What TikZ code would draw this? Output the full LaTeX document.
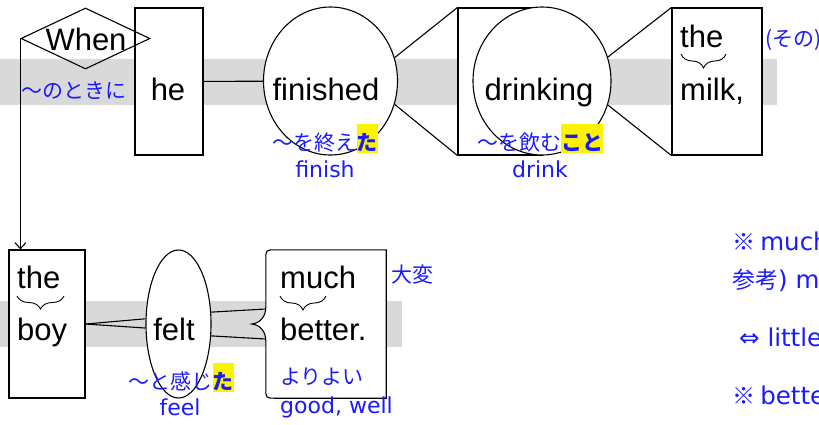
\documentclass[tikz,border=0pt]{standalone}
\usepackage{fontspec}
\setmainfont{Liberation Sans}
\newfontfamily\jp{Noto Sans CJK JP}
\newfontfamily\lat{DejaVu Sans}
\usetikzlibrary{shapes.geometric,arrows.meta,decorations.pathreplacing}
\definecolor{bandgray}{HTML}{D9D9D9}
\definecolor{jblue}{HTML}{1A1AFF}
\newcommand{\hlta}[1]{{\setlength{\fboxsep}{0pt}\colorbox{yellow}{\rule[-0.12em]{0pt}{1.38em}\bfseries #1}}}
\tikzset{
  word/.style={font=\fontsize{31}{31}\selectfont, inner sep=0pt, anchor=base},
  jtxt/.style={font=\jp\fontsize{21}{21}\selectfont, text=jblue, inner sep=0pt, anchor=base},
  ntxt/.style={font=\jp\fontsize{23}{23}\selectfont, text=jblue, inner sep=0pt, anchor=base west},
  ltxt/.style={font=\lat\fontsize{22}{22}\selectfont, text=jblue, inner sep=0pt, anchor=base},
  wbox/.style={draw, fill=white, line width=1.1pt, inner sep=0pt, rectangle},
  wround/.style={draw, fill=white, line width=1.1pt, inner sep=0pt, ellipse},
  conn/.style={line width=1.1pt},
  brc/.style={decorate, line width=0.9pt},
}
\newcommand{\nlat}[1]{{\lat\fontsize{24.5}{24.5}\selectfont #1}}
\begin{document}
\begin{tikzpicture}[x=1pt,y=-1pt]
\useasboundingbox (0,0) rectangle (819,424);
% bands
\fill[bandgray] (0,59) rectangle (777,105);
\fill[bandgray] (0,301) rectangle (402,347);
% shapes
\node[wbox, minimum width=68pt, minimum height=147pt] (he) at (169,81.5) {};
\node[draw, line width=1.1pt, inner sep=0pt, diamond, minimum width=129pt, minimum height=61pt] (when) at (85.5,38.5) {};
\node[wround, minimum width=134pt, minimum height=148pt] (finished) at (330.5,81) {};
\node[wbox, minimum width=84pt, minimum height=147pt] (drinkbox) at (500,81.5) {};
\node[wround, minimum width=138pt, minimum height=148pt] (drinking) at (542,81) {};
\node[wbox, minimum width=90pt, minimum height=147pt] (milk) at (717,81.5) {};
\node[wbox, minimum width=76pt, minimum height=148pt] (boy) at (47,324) {};
\node[wround, minimum width=65pt, minimum height=148pt] (felt) at (178.5,324) {};
\node[rectangle, inner sep=0pt, minimum width=120pt, minimum height=148pt] (much) at (326,324) {};
\draw[line width=1.1pt, fill=white]
  (much.north east) -- (much.south east) -- ([xshift=10pt]much.south west)
  .. controls (much.south west) .. ([yshift=10pt]much.south west)
  -- ([yshift=-17pt]much.west)
  .. controls ([yshift=-8pt]much.west) and ([xshift=-5pt,yshift=-1pt]much.west) .. ([xshift=-14pt]much.west)
  .. controls ([xshift=-5pt,yshift=1pt]much.west) and ([yshift=8pt]much.west) .. ([yshift=17pt]much.west)
  -- ([yshift=-10pt]much.north west)
  .. controls (much.north west) .. ([xshift=10pt]much.north west) -- cycle;
% connectors
\draw[conn] (he) -- (finished);
\draw[conn] (finished.20) -- (drinkbox.north west);
\draw[conn] (finished.-20) -- (drinkbox.south west);
\draw[conn] (drinking.20) -- (milk.north west);
\draw[conn] (drinking.-20) -- (milk.south west);
\draw[conn] (boy.east) -- (felt.171);
\draw[conn] (boy.east) -- (felt.187);
\draw[conn] (felt.20) -- ([yshift=15pt]much.west);
\draw[conn] (felt.-20) -- ([yshift=-15pt]much.west);
\draw[conn, -{Straight Barb[length=6pt,width=11pt]}] (when.west) -- (when.west |- boy.north);
% black words
\node[word] (tWhen) at (86,50) {When};
\node[word] (tHe) at (168,100) {he};
\node[word] (tFin) at (326,100) {finished};
\node[word] (tDri) at (539,100) {drinking};
\node[word, anchor=base west] (tThe1) at (680,47) {the};
\node[word, anchor=base west] (tMilk) at (680,100) {milk,};
\node[word, anchor=base west] (tThe2) at (17,288) {the};
\node[word, anchor=base west] (tBoy) at (17,340) {boy};
\node[word] (tFelt) at (174,340) {felt};
\node[word, anchor=base west] (tMuch) at (280,288) {much};
\node[word, anchor=base west] (tBetter) at (280,340) {better.};
% braces
\draw[brc, decoration={brace, mirror, amplitude=14pt}] (681,54) -- (726,54);
\draw[brc, decoration={brace, mirror, amplitude=13pt}] (17,296) -- (64,296);
\draw[brc, decoration={brace, mirror, amplitude=14pt}] (280,296) -- (326,296);
% blue labels
\node[jtxt] (jNoto) at (74,98.5) {〜のときに};
\node[jtxt] (jOwa) at (325,150) {〜を終え\hlta{た}};
\node[ltxt] (lFin) at (325,177) {finish};
\node[jtxt] (jNomu) at (540,150) {〜を飲む\hlta{こと}};
\node[ltxt] (lDri) at (540,177) {drink};
\node[jtxt, anchor=base west] (jSono) at (765,46) {(その)};
\node[jtxt] (jTaihen) at (412,282) {大変};
\node[jtxt] (jKan) at (181,389) {〜と感じ\hlta{た}};
\node[ltxt] (lFeel) at (180,415) {feel};
\node[jtxt, anchor=base west] (jYori) at (280,384) {よりよい};
\node[ltxt, anchor=base west] (lGood) at (280,413) {good, well};
% notes at right
\node[ntxt] (n1) at (732,250) {※ \nlat{much}};
\node[ntxt] (n2) at (732,288) {参考\nlat{) m}};
\node[ntxt] (n3) at (739,346) {\nlat{⇔ little}};
\node[ntxt] (n4) at (732,404) {※ \nlat{bette}};
\end{tikzpicture}
\end{document}
